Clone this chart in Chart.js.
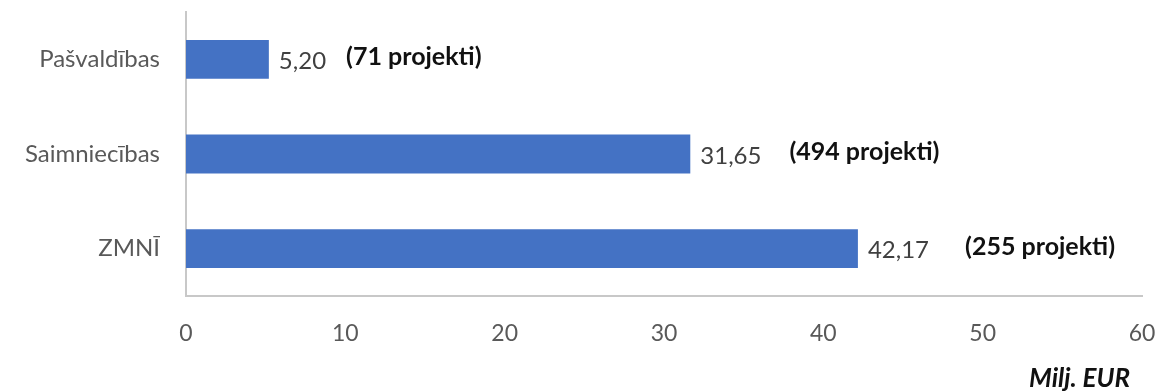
<!DOCTYPE html>
<html>
<head>
<meta charset="utf-8">
<script src="https://cdn.jsdelivr.net/npm/chart.js@4"></script>
<style>
  html, body { margin: 0; padding: 0; background: #ffffff; }
  #wrap { width: 1157px; height: 391px; position: relative; }
</style>
</head>
<body>
<div id="wrap"><canvas id="chart"></canvas></div>
<script>
// dati
var categories = ["Pašvaldības", "Saimniecības", "ZMNĪ"];
var values = [5.20, 31.65, 42.17];
var valueLabels = ["5,20", "31,65", "42,17"];
var projectLabels = ["(71 projekti)", "(494 projekti)", "(255 projekti)"];
var xTicks = [0, 10, 20, 30, 40, 50, 60];
var unitLabel = "Milj. EUR";

var FONT = "Lato, 'Open Sans', sans-serif";

// uzraksti pie stabiņiem + mērvienība
var barLabels = {
    id: "barLabels",
    afterDatasetsDraw: function(chart) {
        var ctx = chart.ctx;
        var meta = chart.getDatasetMeta(0);
        ctx.save();
        ctx.textBaseline = "middle";
        ctx.textAlign = "left";
        meta.data.forEach(function(bar, i) {
            var x = bar.x + 10;
            var y = bar.y + 2;
            ctx.font = "24px " + FONT;
            ctx.fillStyle = "#404040";
            ctx.fillText(valueLabels[i], x, y);
            var w = ctx.measureText(valueLabels[i]).width;
            ctx.font = "bold 25px " + FONT;
            ctx.fillStyle = "#111111";
            ctx.fillText(projectLabels[i], x + w + 20 + i * 8, y - 4);
        });
        // Milj. EUR
        ctx.textAlign = "right";
        ctx.font = "italic bold 26px " + FONT;
        ctx.fillStyle = "#111111";
        ctx.fillText(unitLabel, chart.chartArea.right - 12, 379);
        ctx.restore();
    }
};

// nonemt automatisko atkapi ap asim
function noPad(scale) {
    scale.paddingTop = 0;
    scale.paddingBottom = 0;
    scale.paddingLeft = 0;
    scale.paddingRight = 0;
}

var ctx = document.getElementById("chart").getContext("2d");
var myChart = new Chart(ctx, {
    type: "bar",
    data: {
        labels: categories,
        datasets: [{
            data: values,
            backgroundColor: "#4472C4",
            borderWidth: 0,
            categoryPercentage: 1,
            barPercentage: 0.41,
        }],
    },
    options: {
        indexAxis: "y",
        responsive: true,
        maintainAspectRatio: false,
        animation: false,
        layout: {
            autoPadding: false,
            padding: { top: 12, right: 15, left: 0, bottom: 0 }
        },
        scales: {
            x: {
                min: 0,
                max: 60,
                afterBuildTicks: function(scale) {
                    scale.ticks = xTicks.map(function(v) { return { value: v }; });
                },
                afterFit: function(scale) {
                    scale.height = 95;
                    noPad(scale);
                },
                grid: { display: false, drawTicks: false },
                border: { display: true, color: "#c8c8c8", width: 2 },
                ticks: {
                    padding: 24,
                    color: "#595959",
                    font: { family: FONT, size: 23 },
                },
            },
            y: {
                afterFit: function(scale) {
                    scale.width = 186;
                    noPad(scale);
                },
                grid: { display: false, drawTicks: false },
                border: { display: true, color: "#c8c8c8", width: 2 },
                ticks: {
                    padding: 26,
                    color: "#595959",
                    font: { family: FONT, size: 24 },
                },
            },
        },
        plugins: {
            legend: { display: false },
            tooltip: { enabled: false },
        },
    },
    plugins: [barLabels],
});
</script>
</body>
</html>
